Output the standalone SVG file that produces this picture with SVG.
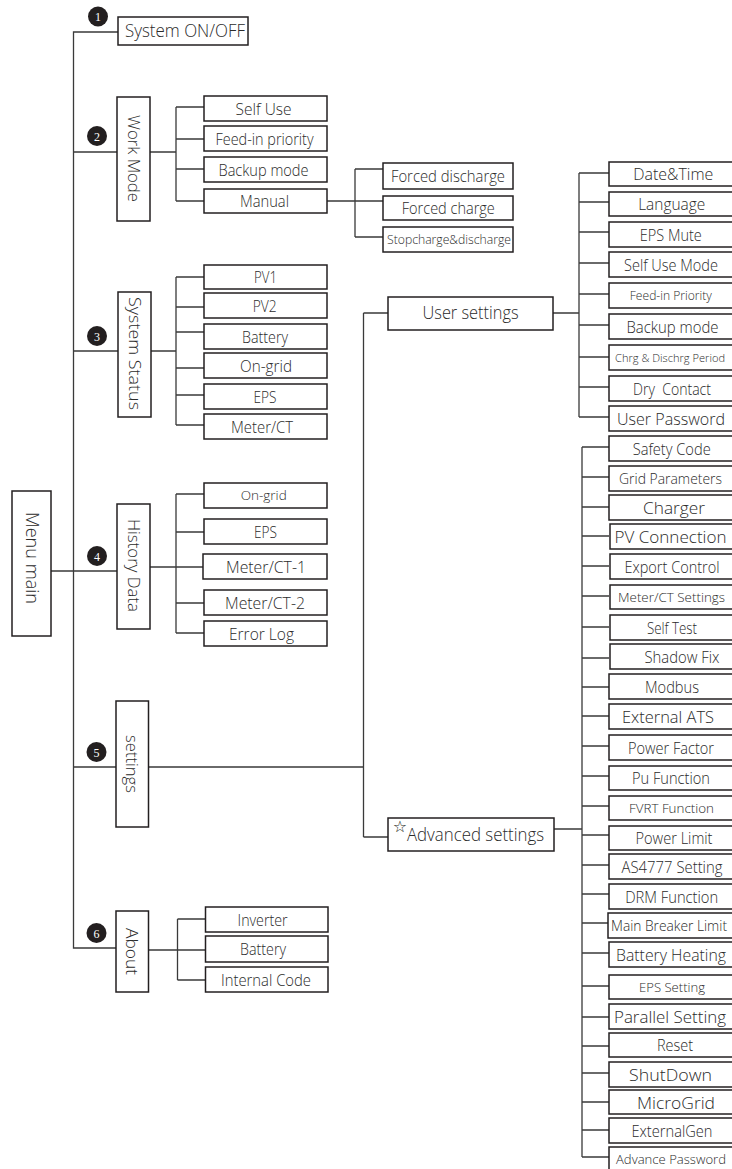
<svg xmlns="http://www.w3.org/2000/svg" width="732" height="1169" viewBox="0 0 732 1169">
<style>
.b{fill:#fff;stroke:#231f20;stroke-width:1.5}
.t{font-family:"Open Sans","Liberation Sans",sans-serif;font-weight:300;fill:#2b2b2b;text-anchor:middle;font-size:16px}
.s11{font-size:11px}
.s13{font-size:13px}
.s12{font-size:12px}
.s14{font-size:14px}
.s15{font-size:15px}
.s17{font-size:17px}
.s18{font-size:18px}
.s19{font-size:19px}
.c{fill:#231f20}
.n{font-family:"Liberation Serif",serif;fill:#fff;font-size:12px;text-anchor:middle}
.star{font-family:"DejaVu Sans",sans-serif;fill:#231f20;font-size:16px;text-anchor:middle}
#connectors path{fill:none;stroke:#3a3a3a;stroke-width:1.3}
</style>
<rect width="732" height="1169" fill="#fff"/>
<g id="connectors">
<path d="M118,32H73.5V948H116M73.5,152H117M73.5,351H118M51,571H117M73.5,767H116"/>
<path d="M150,152H176M176,107H204M176,107V201M176,139H204M176,169H204M176,201H204"/>
<path d="M327,201H355M355,169V237M355,169H383M355,201H383M355,237H383"/>
<path d="M151,351H176M176,277V425M176,277H204M176,307H204M176,332H204M176,368H204M176,395H204M176,425H204"/>
<path d="M150,567H176M176,494V633M176,494H204M176,532H204M176,567H203M176,603H204M176,633H204"/>
<path d="M148.5,767H363.5M363.5,313V837M363.5,313H388M363.5,837H388"/>
<path d="M553,313H579M579,173V417M579,173H609M579,202H609M579,232H609M579,263H609M579,294H609M579,325H609M579,357H609M579,387H609M579,417H609"/>
<path d="M554,829H582M582,447V1157M582,447H609M582,477H609M582,507H609M582,536H609M582,566H609M582,596H609M582,627H609M582,658H609M582,687H609M582,716H609M582,746H609M582,776H609M582,806H609M582,835H609M582,865H609M582,894H609M582,923H609M582,953H609M582,986H609M582,1017H609M582,1046H609M582,1073H609M582,1102H609M582,1130H609M582,1157H609"/>
<path d="M148.5,950H177.5M177.5,919V980M177.5,919H205.5M177.5,950H205.5M177.5,980H205.5"/>
</g>
<g id="badges">
<g id="badge1"><circle class="c" cx="98" cy="16.5" r="10"/><text class="n" x="98" y="21">1</text></g>
<g id="badge2"><circle class="c" cx="97" cy="136" r="10"/><text class="n" x="97" y="140.5">2</text></g>
<g id="badge3"><circle class="c" cx="97" cy="336" r="10"/><text class="n" x="97" y="340.5">3</text></g>
<g id="badge4"><circle class="c" cx="97" cy="556" r="10"/><text class="n" x="97" y="560.5">4</text></g>
<g id="badge5"><circle class="c" cx="96.5" cy="752" r="10"/><text class="n" x="96.5" y="756.5">5</text></g>
<g id="badge6"><circle class="c" cx="96.5" cy="933" r="10"/><text class="n" x="96.5" y="937.5">6</text></g>
</g>
<g id="menu-main"><rect class="b" x="12" y="491" width="39" height="145"/><text class="t s18" transform="translate(31.5,558) rotate(90)" x="0" y="6" textLength="92" lengthAdjust="spacingAndGlyphs">Menu main</text></g>
<g id="system-onoff"><rect class="b" x="118" y="17" width="130" height="28"/><text class="t s18" x="185" y="37" textLength="120" lengthAdjust="spacingAndGlyphs">System ON/OFF</text></g>
<g id="work-mode"><rect class="b" x="117" y="97" width="33" height="124"/><text class="t s17" transform="translate(133.5,158.5) rotate(90)" x="0" y="6" textLength="87" lengthAdjust="spacingAndGlyphs">Work Mode</text></g>
<g id="wm-self-use"><rect class="b" x="204" y="96" width="123" height="25"/><text class="t" x="263.5" y="114.5" textLength="56" lengthAdjust="spacingAndGlyphs">Self Use</text></g>
<g id="wm-feed-in"><rect class="b" x="204" y="126" width="123" height="25"/><text class="t" x="264.5" y="144.5" textLength="98" lengthAdjust="spacingAndGlyphs">Feed-in priority</text></g>
<g id="wm-backup"><rect class="b" x="204" y="157" width="123" height="25"/><text class="t" x="263.5" y="175.5" textLength="90" lengthAdjust="spacingAndGlyphs">Backup mode</text></g>
<g id="wm-manual"><rect class="b" x="204" y="189" width="123" height="24"/><text class="t" x="264.5" y="207" textLength="49" lengthAdjust="spacingAndGlyphs">Manual</text></g>
<g id="forced-discharge"><rect class="b" x="383" y="163" width="130" height="26"/><text class="t" x="448" y="182" textLength="114" lengthAdjust="spacingAndGlyphs">Forced discharge</text></g>
<g id="forced-charge"><rect class="b" x="383" y="196" width="130" height="24"/><text class="t" x="448.3" y="213.5" textLength="93" lengthAdjust="spacingAndGlyphs">Forced charge</text></g>
<g id="stop-charge"><rect class="b" x="383" y="227" width="130" height="25"/><text class="t s12" x="449" y="244" textLength="124" lengthAdjust="spacingAndGlyphs">Stopcharge&amp;discharge</text></g>
<g id="system-status"><rect class="b" x="118" y="292" width="33" height="125"/><text class="t s17" transform="translate(134.5,353.5) rotate(90)" x="0" y="6" textLength="113" lengthAdjust="spacingAndGlyphs">System Status</text></g>
<g id="ss-pv1"><rect class="b" x="204" y="265" width="123" height="24"/><text class="t" x="265.5" y="283" textLength="23" lengthAdjust="spacingAndGlyphs">PV1</text></g>
<g id="ss-pv2"><rect class="b" x="204" y="293" width="123" height="25"/><text class="t" x="264.7" y="311.5" textLength="24" lengthAdjust="spacingAndGlyphs">PV2</text></g>
<g id="ss-battery"><rect class="b" x="204" y="324" width="123" height="25"/><text class="t" x="265" y="342.5" textLength="46" lengthAdjust="spacingAndGlyphs">Battery</text></g>
<g id="ss-ongrid"><rect class="b" x="204" y="353" width="123" height="25"/><text class="t" x="266" y="371.5" textLength="52" lengthAdjust="spacingAndGlyphs">On-grid</text></g>
<g id="ss-eps"><rect class="b" x="204" y="384" width="123" height="25"/><text class="t" x="265" y="402.5" textLength="23" lengthAdjust="spacingAndGlyphs">EPS</text></g>
<g id="ss-meter"><rect class="b" x="204" y="414" width="123" height="25"/><text class="t" x="262" y="432.5" textLength="62" lengthAdjust="spacingAndGlyphs">Meter/CT</text></g>
<g id="history-data"><rect class="b" x="117" y="504" width="33" height="125"/><text class="t s17" transform="translate(133.5,565.5) rotate(90)" x="0" y="6" textLength="93" lengthAdjust="spacingAndGlyphs">History Data</text></g>
<g id="hd-ongrid"><rect class="b" x="204" y="483" width="123" height="25"/><text class="t s13" x="263.7" y="500" textLength="46" lengthAdjust="spacingAndGlyphs">On-grid</text></g>
<g id="hd-eps"><rect class="b" x="204" y="519" width="123" height="25"/><text class="t" x="265.5" y="537.5" textLength="23" lengthAdjust="spacingAndGlyphs">EPS</text></g>
<g id="hd-meter1"><rect class="b" x="203" y="554" width="124" height="25"/><text class="t" x="266" y="572.5" textLength="80" lengthAdjust="spacingAndGlyphs">Meter/CT-1</text></g>
<g id="hd-meter2"><rect class="b" x="204" y="590" width="123" height="25"/><text class="t" x="265" y="608.5" textLength="80" lengthAdjust="spacingAndGlyphs">Meter/CT-2</text></g>
<g id="hd-errorlog"><rect class="b" x="204" y="621" width="123" height="25"/><text class="t" x="261.5" y="639.5" textLength="65" lengthAdjust="spacingAndGlyphs">Error Log</text></g>
<g id="settings"><rect class="b" x="116" y="701" width="32.5" height="126"/><text class="t s17" transform="translate(132,764) rotate(90)" x="0" y="6" textLength="58" lengthAdjust="spacingAndGlyphs">settings</text></g>
<g id="user-settings"><rect class="b" x="388" y="297" width="165" height="33"/><text class="t s19" x="470.5" y="319" textLength="96" lengthAdjust="spacingAndGlyphs">User settings</text></g>
<g id="advanced-settings"><rect class="b" x="388" y="818" width="166" height="33"/><text class="star" x="400" y="832">☆</text><text class="t s19" x="475.5" y="840.5" textLength="137" lengthAdjust="spacingAndGlyphs">Advanced settings</text></g>
<g id="about"><rect class="b" x="116" y="911" width="32.5" height="81"/><text class="t s17" transform="translate(132,951.5) rotate(90)" x="0" y="6" textLength="47" lengthAdjust="spacingAndGlyphs">About</text></g>
<g id="ab-inverter"><rect class="b" x="205.5" y="907" width="122.5" height="25"/><text class="t" x="262.6" y="925.5" textLength="50" lengthAdjust="spacingAndGlyphs">Inverter</text></g>
<g id="ab-battery"><rect class="b" x="205.5" y="936" width="122.5" height="26"/><text class="t" x="263" y="955" textLength="46" lengthAdjust="spacingAndGlyphs">Battery</text></g>
<g id="ab-internal"><rect class="b" x="205.5" y="967" width="122.5" height="25"/><text class="t" x="266" y="985.5" textLength="90" lengthAdjust="spacingAndGlyphs">Internal Code</text></g>
<g id="us-datetime"><rect class="b" x="609" y="162" width="130" height="24"/><text class="t" x="673.3" y="180" textLength="80" lengthAdjust="spacingAndGlyphs">Date&amp;Time</text></g>
<g id="us-language"><rect class="b" x="609" y="192" width="130" height="24"/><text class="t" x="671.7" y="210" textLength="67" lengthAdjust="spacingAndGlyphs">Language</text></g>
<g id="us-epsmute"><rect class="b" x="609" y="222" width="130" height="25"/><text class="t" x="670.8" y="240.5" textLength="62" lengthAdjust="spacingAndGlyphs">EPS Mute</text></g>
<g id="us-selfuse"><rect class="b" x="609" y="252" width="130" height="25"/><text class="t" x="671" y="270.5" textLength="94" lengthAdjust="spacingAndGlyphs">Self Use Mode</text></g>
<g id="us-feedin"><rect class="b" x="609" y="283" width="130" height="25"/><text class="t s13" x="670.8" y="300" textLength="82" lengthAdjust="spacingAndGlyphs">Feed-in Priority</text></g>
<g id="us-backup"><rect class="b" x="609" y="314" width="130" height="25"/><text class="t" x="672.5" y="332.5" textLength="92" lengthAdjust="spacingAndGlyphs">Backup mode</text></g>
<g id="us-chrg"><rect class="b" x="609" y="345" width="130" height="25"/><text class="t s11" x="670" y="361.5" textLength="110" lengthAdjust="spacingAndGlyphs">Chrg &amp; Dischrg Period</text></g>
<g id="us-dry"><rect class="b" x="609" y="376" width="130" height="25"/><text class="t" x="672" y="394.5" textLength="78" lengthAdjust="spacingAndGlyphs" xml:space="preserve">Dry  Contact</text></g>
<g id="us-password"><rect class="b" x="609" y="406" width="130" height="25"/><text class="t s17" x="671" y="425" textLength="108" lengthAdjust="spacingAndGlyphs">User Password</text></g>
<g id="adv-safety"><rect class="b" x="609" y="436" width="130" height="25"/><text class="t" x="671.7" y="454.5" textLength="78" lengthAdjust="spacingAndGlyphs">Safety Code</text></g>
<g id="adv-grid"><rect class="b" x="609" y="466" width="130" height="25"/><text class="t s15" x="670.5" y="484" textLength="103" lengthAdjust="spacingAndGlyphs">Grid Parameters</text></g>
<g id="adv-charger"><rect class="b" x="609" y="495" width="130" height="25"/><text class="t s17" x="674" y="514" textLength="62" lengthAdjust="spacingAndGlyphs">Charger</text></g>
<g id="adv-pv"><rect class="b" x="610" y="524" width="130" height="25"/><text class="t s17" x="670.5" y="543" textLength="112" lengthAdjust="spacingAndGlyphs">PV Connection</text></g>
<g id="adv-export"><rect class="b" x="610" y="554" width="130" height="25"/><text class="t" x="672" y="572.5" textLength="95" lengthAdjust="spacingAndGlyphs">Export Control</text></g>
<g id="adv-meter"><rect class="b" x="610" y="585" width="130" height="24"/><text class="t s13" x="671.5" y="601.5" textLength="107" lengthAdjust="spacingAndGlyphs">Meter/CT Settings</text></g>
<g id="adv-selftest"><rect class="b" x="610" y="615" width="130" height="25"/><text class="t" x="672" y="633.5" textLength="50" lengthAdjust="spacingAndGlyphs">Self Test</text></g>
<g id="adv-shadow"><rect class="b" x="610" y="644" width="130" height="25"/><text class="t" x="682" y="662.5" textLength="75" lengthAdjust="spacingAndGlyphs">Shadow Fix</text></g>
<g id="adv-modbus"><rect class="b" x="609" y="674" width="130" height="25"/><text class="t" x="672" y="692.5" textLength="54" lengthAdjust="spacingAndGlyphs">Modbus</text></g>
<g id="adv-ats"><rect class="b" x="609" y="704" width="130" height="25"/><text class="t s17" x="668" y="723" textLength="92" lengthAdjust="spacingAndGlyphs">External ATS</text></g>
<g id="adv-pf"><rect class="b" x="609" y="735" width="130" height="25"/><text class="t" x="671" y="753.5" textLength="86" lengthAdjust="spacingAndGlyphs">Power Factor</text></g>
<g id="adv-pu"><rect class="b" x="609" y="766" width="130" height="24"/><text class="t" x="671" y="784" textLength="78" lengthAdjust="spacingAndGlyphs">Pu Function</text></g>
<g id="adv-fvrt"><rect class="b" x="609" y="796" width="130" height="24"/><text class="t s13" x="671.5" y="812.5" textLength="85" lengthAdjust="spacingAndGlyphs">FVRT Function</text></g>
<g id="adv-powerlimit"><rect class="b" x="609" y="826" width="130" height="24"/><text class="t" x="674" y="844" textLength="77" lengthAdjust="spacingAndGlyphs">Power Limit</text></g>
<g id="adv-as4777"><rect class="b" x="609" y="854" width="130" height="25"/><text class="t" x="672" y="872.5" textLength="101" lengthAdjust="spacingAndGlyphs">AS4777 Setting</text></g>
<g id="adv-drm"><rect class="b" x="609" y="884" width="130" height="25"/><text class="t" x="671.7" y="902.5" textLength="93" lengthAdjust="spacingAndGlyphs">DRM Function</text></g>
<g id="adv-mainbreaker"><rect class="b" x="608" y="913" width="131" height="25"/><text class="t s14" x="669" y="930.5" textLength="116" lengthAdjust="spacingAndGlyphs">Main Breaker Limit</text></g>
<g id="adv-heating"><rect class="b" x="609" y="942" width="130" height="25"/><text class="t s17" x="671" y="961" textLength="110" lengthAdjust="spacingAndGlyphs">Battery Heating</text></g>
<g id="adv-eps"><rect class="b" x="609" y="975" width="130" height="24"/><text class="t s12" x="672" y="991.5" textLength="66" lengthAdjust="spacingAndGlyphs">EPS Setting</text></g>
<g id="adv-parallel"><rect class="b" x="609" y="1004" width="130" height="25"/><text class="t s17" x="670" y="1023" textLength="112" lengthAdjust="spacingAndGlyphs">Parallel Setting</text></g>
<g id="adv-reset"><rect class="b" x="609" y="1033" width="130" height="24"/><text class="t" x="675" y="1051" textLength="36" lengthAdjust="spacingAndGlyphs">Reset</text></g>
<g id="adv-shutdown"><rect class="b" x="609" y="1062" width="130" height="25"/><text class="t s17" x="670.5" y="1081" textLength="83" lengthAdjust="spacingAndGlyphs">ShutDown</text></g>
<g id="adv-microgrid"><rect class="b" x="609" y="1090" width="130" height="24"/><text class="t s17" x="676" y="1108.5" textLength="78" lengthAdjust="spacingAndGlyphs">MicroGrid</text></g>
<g id="adv-externalgen"><rect class="b" x="609" y="1118" width="130" height="25"/><text class="t" x="672" y="1136.5" textLength="81" lengthAdjust="spacingAndGlyphs">ExternalGen</text></g>
<g id="adv-password"><rect class="b" x="609" y="1147" width="130" height="30"/><text class="t s13" x="671" y="1164" textLength="110" lengthAdjust="spacingAndGlyphs">Advance Password</text></g>
</svg>
